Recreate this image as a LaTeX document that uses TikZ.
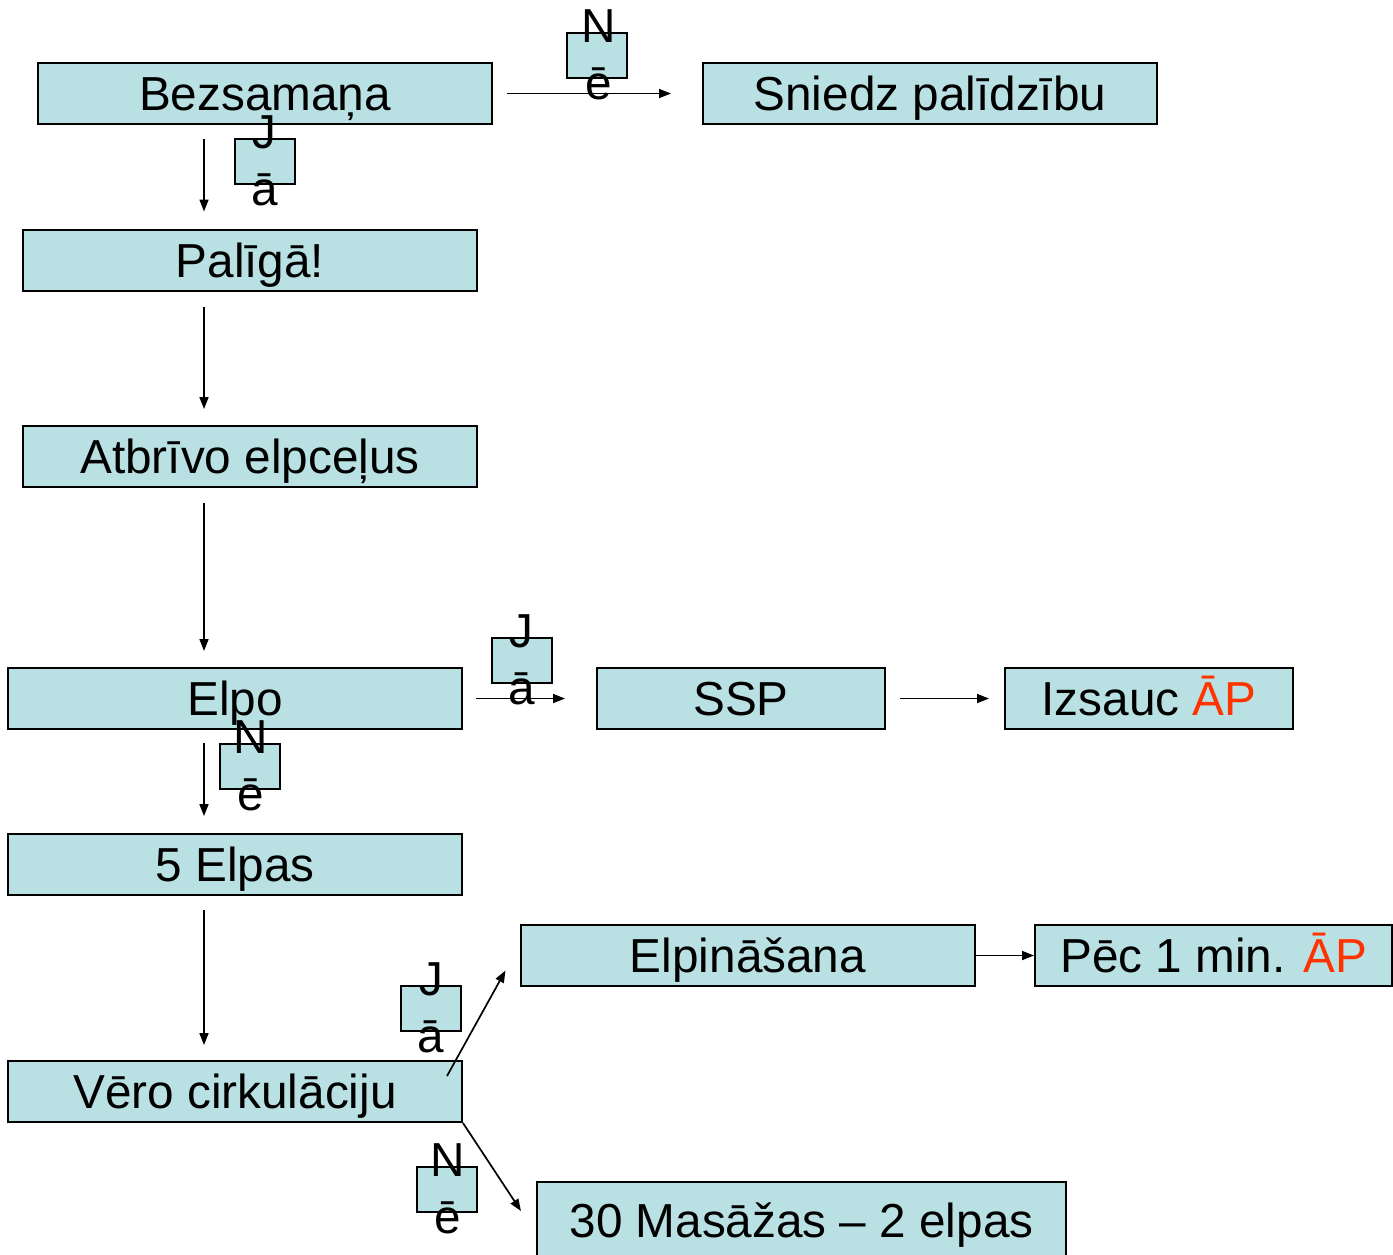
\documentclass[tikz,border=0pt]{standalone}
\usepackage{fontspec}
\setmainfont{Liberation Sans}
\usetikzlibrary{arrows.meta,calc}
\definecolor{boxfill}{RGB}{185,224,227}
\definecolor{apred}{RGB}{255,51,0}
\begin{document}
\begin{tikzpicture}[x=1pt,y=-1pt,
  every node/.style={font=\fontsize{47.7}{57}\selectfont},
  box/.style={draw=black, line width=2pt, fill=boxfill, inner sep=0pt,
    text height=34pt, text depth=0pt, minimum height=61pt},
  lbl/.style={draw=black, line width=2pt, fill=boxfill, inner sep=0pt,
    minimum width=60pt, minimum height=45pt},
  lt/.style={anchor=base, inner sep=0pt},
  arr/.style={line width=1.7pt, -{Triangle[length=12pt,width=9pt]}}]
\useasboundingbox (0,0) rectangle (1393,1254);
\fill[white] (0,0) rectangle (1393,1254);

% main boxes
\node[box, minimum width=454pt] (bez)  at (265,93.5)   {Bezsamaņa};
\node[box, minimum width=454pt] (sni)  at (930,93.5)   {Sniedz palīdzību};
\node[box, minimum width=454pt] (pal)  at (250,260)    {Palīgā!};
\node[box, minimum width=454pt] (atb)  at (250,456.5)  {Atbrīvo elpceļus};
\node[box, minimum width=454pt] (elpo) at (235,698.5)  {Elpo};
\node[box, minimum width=288pt] (ssp)  at (741,698.5)  {SSP};
\node[box, minimum width=288pt] (izs)  at (1149,698.5) {Izsauc \textcolor{apred}{ĀP}};
\node[box, minimum width=454pt] (five) at (235,864.5)  {5 Elpas};
\node[box, minimum width=454pt] (elpi) at (748,955.5)  {Elpināšana};
\node[box, minimum width=357pt] (pec)  at (1213.5,955.5) {Pēc 1 min. \textcolor{apred}{ĀP}};
\node[box, minimum width=454pt] (vero) at (235,1091.5) {Vēro cirkulāciju};
\node[box, minimum width=529pt, minimum height=76pt] (mas) at (801.5,1220) {30 Masāžas – 2 elpas};

% connectors
\coordinate (vx) at (204,0);
\draw[arr] ($(bez.east)+(14,0)$) -- ($(sni.west)+(-31,0)$);
\draw[arr] ($(bez.south -| vx)+(0,14)$) -- ($(pal.north -| vx)+(0,-17)$);
\draw[arr] ($(pal.south -| vx)+(0,15)$) -- ($(atb.north -| vx)+(0,-16)$);
\draw[arr] ($(atb.south -| vx)+(0,15)$) -- ($(elpo.north -| vx)+(0,-16)$);
\draw[arr] ($(elpo.east)+(13,0)$) -- ($(ssp.west)+(-31,0)$);
\draw[arr] ($(ssp.east)+(14,0)$) -- ($(izs.west)+(-15,0)$);
\draw[arr] ($(elpo.south -| vx)+(0,13)$) -- ($(five.north -| vx)+(0,-17)$);
\draw[arr] ($(five.south -| vx)+(0,14)$) -- ($(vero.north -| vx)+(0,-15)$);
\draw[arr] ($(vero.north east)+(-16,16)$) -- ($(elpi.west)+(-14.5,15)$);
\draw[arr] (elpi.east) -- (pec.west);
\draw[arr] (vero.south east) -- ($(mas.west)+(-15,-9)$);

% small answer labels
\node[lbl] (l1) at (597,55.5) {};
\node[lt] (l1a) at ($(l1.north)+(1.5,10.5)$) {N};
\node[lt] (l1b) at ($(l1.north)+(1.5,67.5)$) {ē};

\node[lbl] (l2) at (264.5,161.5) {};
\node[lt] (l2a) at ($(l2.north)+(0,10.5)$) {J};
\node[lt] (l2b) at ($(l2.north)+(0,67.5)$) {ā};

\node[lbl] (l3) at (521.5,660.5) {};
\node[lt] (l3a) at ($(l3.north)+(0,10.5)$) {J};
\node[lt] (l3b) at ($(l3.north)+(0,67.5)$) {ā};

\node[lbl] (l4) at (249.5,766) {};
\node[lt] (l4a) at ($(l4.north)+(1.5,10.5)$) {N};
\node[lt] (l4b) at ($(l4.north)+(1.5,67.5)$) {ē};

\node[lbl] (l5) at (431,1008.5) {};
\node[lt] (l5a) at ($(l5.north)+(0,10.5)$) {J};
\node[lt] (l5b) at ($(l5.north)+(0,67.5)$) {ā};

\node[lbl] (l6) at (446.5,1189.5) {};
\node[lt] (l6a) at ($(l6.north)+(1.5,10.5)$) {N};
\node[lt] (l6b) at ($(l6.north)+(1.5,67.5)$) {ē};
\end{tikzpicture}
\end{document}
